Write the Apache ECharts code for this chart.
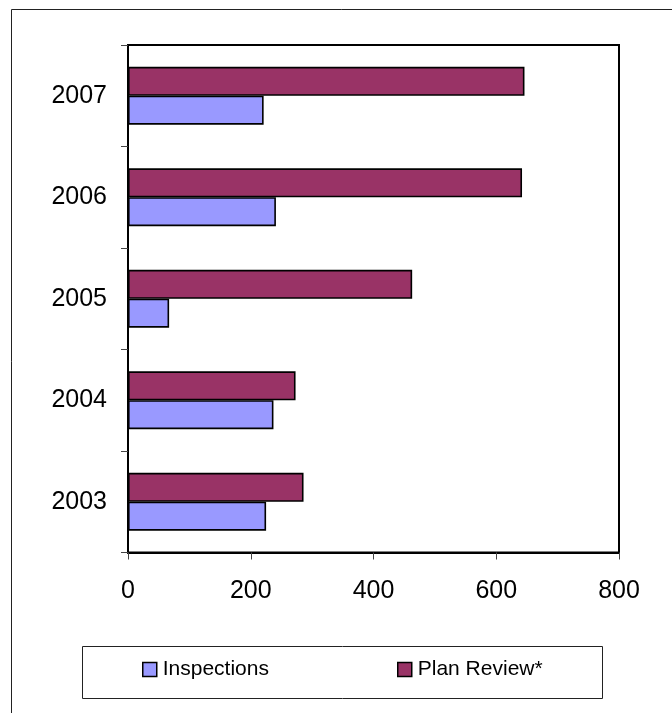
<!DOCTYPE html>
<html>
<head>
<meta charset="utf-8">
<script src="https://cdn.jsdelivr.net/npm/echarts@6/dist/echarts.min.js"></script>
<style>
html,body{margin:0;padding:0;background:#fff;}
#chart{width:672px;height:713px;}
</style>
</head>
<body>
<div id="chart"></div>
<script>
var years = ['2003', '2004', '2005', '2006', '2007'];
var inspections = [225, 237, 67, 241, 221];
var planReview = [286, 273, 463, 642, 646];
var xTicks = [0, 200, 400, 600, 800];

var FONT = 'Liberation Sans, Arial, sans-serif';
var chart = echarts.init(document.getElementById('chart'), null, {renderer: 'canvas'});
chart.setOption({
  animation: false,
  backgroundColor: '#fff',
  graphic: [
    {type: 'line', shape: {x1: 11.5, y1: 9.5, x2: 672, y2: 9.5}, style: {stroke: '#222', lineWidth: 1}},
    {type: 'line', shape: {x1: 11.5, y1: 9.5, x2: 11.5, y2: 713}, style: {stroke: '#222', lineWidth: 1}},
    {type: 'rect', shape: {x: 82.5, y: 646.5, width: 520, height: 52}, style: {fill: 'none', stroke: '#222', lineWidth: 1}}
  ],
  grid: {
    left: 128, right: 53, top: 45, bottom: 160.5,
    show: true, borderColor: '#000', borderWidth: 2, backgroundColor: '#fff'
  },
  legend: [
    {
      data: ['Inspections'], left: 142, top: 659, padding: 0, icon: 'rect',
      itemWidth: 14, itemHeight: 14, itemGap: 0,
      itemStyle: {borderColor: '#000', borderWidth: 1.5},
      textStyle: {fontFamily: FONT, fontSize: 21, color: '#000', padding: [0, 0, 0, 1]}
    },
    {
      data: ['Plan Review*'], left: 397, top: 659, padding: 0, icon: 'rect',
      itemWidth: 14, itemHeight: 14, itemGap: 0,
      itemStyle: {borderColor: '#000', borderWidth: 1.5},
      textStyle: {fontFamily: FONT, fontSize: 21, color: '#000', padding: [0, 0, 0, 1]}
    }
  ],
  xAxis: {
    type: 'value', min: xTicks[0], max: xTicks[xTicks.length - 1], interval: 200,
    axisLine: {show: true, lineStyle: {color: '#000', width: 2}},
    axisTick: {show: true, length: 7, lineStyle: {color: '#444', width: 1}},
    splitLine: {show: false},
    axisLabel: {fontFamily: FONT, fontSize: 25, color: '#000', margin: 26}
  },
  yAxis: {
    type: 'category', data: years,
    axisLine: {show: true, lineStyle: {color: '#000', width: 2}},
    axisTick: {show: true, length: 7, lineStyle: {color: '#444', width: 1}},
    axisLabel: {fontFamily: FONT, fontSize: 25, color: '#000', margin: 21}
  },
  series: [
    {
      name: 'Plan Review*', type: 'bar', data: planReview,
      barCategoryGap: '43%', barGap: '0%',
      itemStyle: {color: '#993366', borderColor: '#000', borderWidth: 1.6}
    },
    {
      name: 'Inspections', type: 'bar', data: inspections,
      barCategoryGap: '43%', barGap: '0%',
      itemStyle: {color: '#9999FF', borderColor: '#000', borderWidth: 1.6}
    }
  ]
});
</script>
</body>
</html>
